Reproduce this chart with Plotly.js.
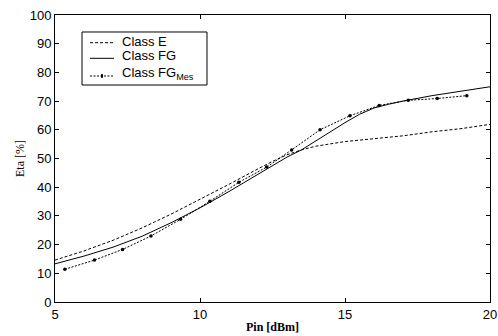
<!DOCTYPE html>
<html>
<head>
<meta charset="utf-8">
<script src="https://cdn.plot.ly/plotly-3.0.1.min.js"></script>
<style>html,body{margin:0;padding:0;background:#fff;}#chart{width:498px;height:336px;}</style>
</head>
<body>
<div id="chart"></div>
<script>
const pinE = [5, 6, 7, 8, 9, 10, 11, 12, 12.5, 13, 13.5, 14, 15, 16, 17, 18, 19, 20];
const etaE = [14.6, 17.8, 21.5, 25.8, 30.6, 35.7, 41.0, 46.4, 49.0, 51.3, 53.0, 54.3, 55.9, 56.9, 57.9, 59.3, 60.4, 61.9];

const pinFG = [5, 6, 7, 8, 9, 10, 11, 12, 12.5, 13, 13.5, 14, 14.5, 15, 15.5, 16, 16.5, 17, 18, 19, 20];
const etaFG = [13.3, 16.0, 19.1, 22.9, 27.6, 32.8, 38.5, 44.5, 47.6, 50.5, 53.0, 56.2, 59.4, 62.5, 65.4, 67.6, 68.9, 70.0, 71.9, 73.5, 75.0];

const pinMes = [5.34, 6.36, 7.33, 8.31, 9.33, 10.34, 11.34, 12.3, 13.16, 14.14, 15.17, 16.18, 17.18, 18.18, 19.2];
const etaMes = [11.4, 14.6, 18.3, 23.0, 28.8, 35.1, 41.7, 47.0, 53.0, 60.0, 64.9, 68.5, 70.3, 70.9, 71.9];

const names = ['Class E', 'Class FG', 'Class FG<sub>Mes</sub>'];
const xTicks = [5, 10, 15, 20];
const yTicks = [0, 10, 20, 30, 40, 50, 60, 70, 80, 90, 100];

const dashE = '3px,2px';
const dashMes = '2px,1.5px';

const traces = [
  {x: pinE, y: etaE, name: names[0], mode: 'lines', line: {color: '#000', width: 1, dash: dashE}},
  {x: pinFG, y: etaFG, name: names[1], mode: 'lines', line: {color: '#000', width: 1}},
  {x: pinMes, y: etaMes, name: names[2], mode: 'lines+markers', line: {color: '#000', width: 1, dash: dashMes}, marker: {color: '#000', size: 3.5}}
];

const axisCommon = {
  showgrid: false, zeroline: false, showline: true, linecolor: '#000', linewidth: 1,
  mirror: 'ticks', ticks: 'inside', ticklen: 4, tickcolor: '#000', tickwidth: 1,
  tickfont: {family: 'Liberation Sans, Arial', size: 13, color: '#000'}
};

// custom legend (paper coordinates)
const legRows = [0.9035, 0.8491, 0.7875];
const legTextY = [0.9070, 0.8580, 0.7950];
const legFont = {family: 'Liberation Sans, Arial', size: 13, color: '#000'};
const shapes = [
  {type: 'rect', xref: 'paper', yref: 'paper', x0: 0.0621, x1: 0.3494, y0: 0.756, y1: 0.9408,
   line: {color: '#000', width: 1}, fillcolor: '#fff', layer: 'above'},
  {type: 'line', xref: 'paper', yref: 'paper', x0: 0.0805, x1: 0.1356, y0: legRows[0], y1: legRows[0],
   line: {color: '#000', width: 1, dash: dashE}, layer: 'above'},
  {type: 'line', xref: 'paper', yref: 'paper', x0: 0.0805, x1: 0.1356, y0: legRows[1], y1: legRows[1],
   line: {color: '#000', width: 1}, layer: 'above'},
  {type: 'line', xref: 'paper', yref: 'paper', x0: 0.0805, x1: 0.1356, y0: legRows[2], y1: legRows[2],
   line: {color: '#000', width: 1, dash: dashMes}, layer: 'above'},
  {type: 'circle', xref: 'paper', yref: 'paper', x0: 0.1055, x1: 0.1105, y0: legRows[2] - 0.0075, y1: legRows[2] + 0.0075,
   line: {color: '#000', width: 0}, fillcolor: '#000', layer: 'above'}
];
const annotations = names.map((n, i) => ({
  xref: 'paper', yref: 'paper', x: 0.152, y: legTextY[i], xanchor: 'left', yanchor: 'middle',
  text: n, showarrow: false, font: legFont, borderpad: 0
}));

const layout = {
  width: 498, height: 336,
  margin: {l: 55, r: 8, t: 15, b: 34},
  paper_bgcolor: '#fff', plot_bgcolor: '#fff',
  showlegend: false,
  shapes: shapes,
  annotations: annotations,
  xaxis: Object.assign({}, axisCommon, {
    range: [5, 20], tickvals: xTicks, ticktext: xTicks.map(String),
    title: {text: '<b>Pin [dBm]</b>', font: {family: 'Liberation Serif, Times New Roman', size: 12, color: '#000'}, standoff: 2}
  }),
  yaxis: Object.assign({}, axisCommon, {
    range: [0, 100], tickvals: yTicks, ticktext: yTicks.map(String),
    title: {text: 'Eta [%]', font: {family: 'Liberation Serif, Times New Roman', size: 12, color: '#000'}, standoff: 2}
  })
};

Plotly.newPlot('chart', traces, layout, {displayModeBar: false, staticPlot: true});
</script>
</body>
</html>
